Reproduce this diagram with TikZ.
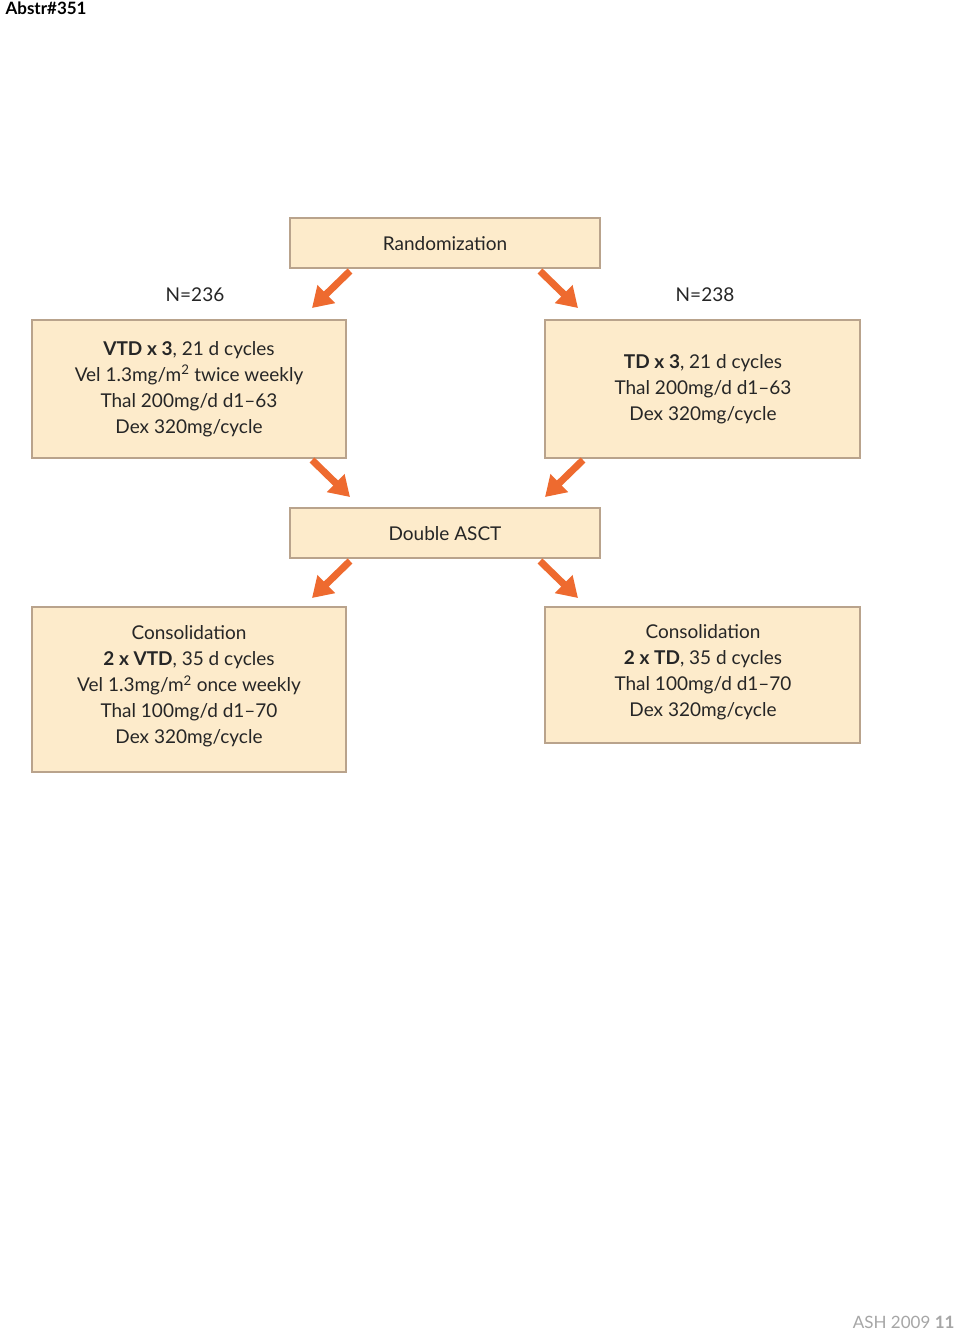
\documentclass[tikz,border=0pt]{standalone}
\usepackage{fontspec}
\setmainfont{Lato}
\usetikzlibrary{arrows.meta}
\definecolor{boxfill}{HTML}{FDEBCB}
\definecolor{boxline}{HTML}{B9A38C}
\definecolor{arr}{HTML}{EE6A2F}
\begin{document}
\begin{tikzpicture}[x=1pt,y=-1pt,
  box/.style={draw=boxline,line width=2pt,fill=boxfill,inner sep=0pt},
  txt/.style={font=\fontsize{19}{26}\selectfont,align=center,text=black!85},
  oarrow/.style={draw=arr,line width=7pt,-{Triangle[width=24pt,length=20pt]}}]
\useasboundingbox[fill=white] (0,0) rectangle (960,1332);
\node[anchor=north west,font=\bfseries\fontsize{17}{20}\selectfont] (hdr) at (2,-2) {Abstr\#351};
\draw[box] (290,218) rectangle (600,268);
\node[txt] (rand) at (445,244) {Randomization};
\node[txt] (n1) at (195,295) {N=236};
\node[txt] (n2) at (705,295) {N=238};
\draw[box] (32,320) rectangle (346,458);
\node[txt] (vtd) at (189,389) {\textbf{VTD x 3}, 21 d cycles\\Vel 1.3mg/m\textsuperscript{2} twice weekly\\Thal 200mg/d d1--63\\Dex 320mg/cycle};
\draw[box] (545,320) rectangle (860,458);
\node[txt] (td) at (703,389) {\textbf{TD x 3}, 21 d cycles\\Thal 200mg/d d1--63\\Dex 320mg/cycle};
\draw[box] (290,508) rectangle (600,558);
\node[txt] (asct) at (445,534) {Double ASCT};
\draw[box] (32,607) rectangle (346,772);
\node[txt] (c1) at (189,686) {Consolidation\\\textbf{2 x VTD}, 35 d cycles\\Vel 1.3mg/m\textsuperscript{2} once weekly\\Thal 100mg/d d1--70\\Dex 320mg/cycle};
\draw[box] (545,607) rectangle (860,743);
\node[txt] (c2) at (703,672) {Consolidation\\\textbf{2 x TD}, 35 d cycles\\Thal 100mg/d d1--70\\Dex 320mg/cycle};
\node[anchor=south east,font=\fontsize{17}{20}\selectfont,text=black!35] (ftr) at (958,1332) {ASH 2009 \textbf{11}};
\coordinate (a1s) at (350,271); \coordinate (a1e) at (312,308);
\coordinate (a2s) at (540,271); \coordinate (a2e) at (578,308);
\coordinate (a3s) at (312,460); \coordinate (a3e) at (350,497);
\coordinate (a4s) at (583,460); \coordinate (a4e) at (545,497);
\coordinate (a5s) at (350,561); \coordinate (a5e) at (312,598);
\coordinate (a6s) at (540,561); \coordinate (a6e) at (578,598);
\foreach \a in {1,...,6}{\draw[oarrow] (a\a s) -- (a\a e);}
\end{tikzpicture}
\end{document}
